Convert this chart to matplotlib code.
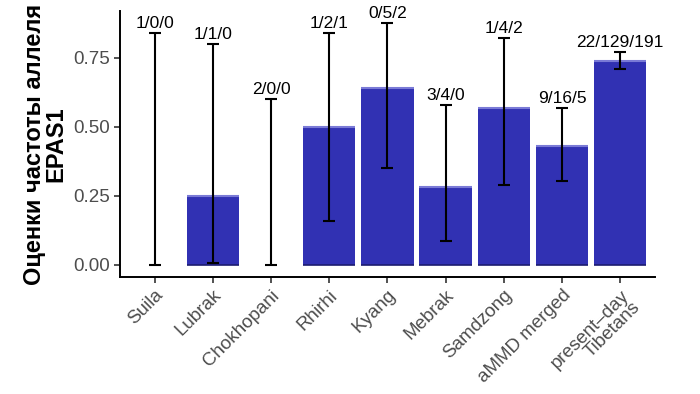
import numpy as np
import matplotlib
matplotlib.use("Agg")
from matplotlib import pyplot as plt

plt.rcParams['font.family'] = ['Liberation Sans', 'DejaVu Sans']

sites = ["Suila", "Lubrak", "Chokhopani", "Rhirhi", "Kyang", "Mebrak",
         "Samdzong", "aMMD merged", "present\u2013day\nTibetans"]
freq = [0.0, 0.25, 0.0, 0.50, 0.64, 0.283, 0.57, 0.43, 0.74]
err_lo = [0.0, 0.007, 0.0, 0.159, 0.351, 0.087, 0.29, 0.304, 0.71]
err_hi = [0.84, 0.80, 0.60, 0.84, 0.877, 0.58, 0.822, 0.569, 0.772]
counts = ["1/0/0", "1/1/0", "2/0/0", "1/2/1", "0/5/2", "3/4/0",
          "1/4/2", "9/16/5", "22/129/191"]

fig = plt.figure(figsize=(7, 3.94), dpi=100)
ax = fig.add_axes([0.171, 0.297, 0.765, 0.675])

x = np.arange(1, len(sites) + 1)
bar_col = "#3131b3"
ax.bar(x, freq, width=0.9, color=bar_col, edgecolor="none", zorder=1)
# lighter rim at bar top, darker at base
for xi, f in zip(x, freq):
    if f > 0:
        ax.hlines(f, xi - 0.45, xi + 0.45, color="#7a7ad6", lw=1.5, zorder=2)
        ax.hlines(0, xi - 0.45, xi + 0.45, color="#1c1c70", lw=1.2, zorder=2)

lo = np.array(freq) - np.array(err_lo)
hi = np.array(err_hi) - np.array(freq)
ax.errorbar(x, freq, yerr=[lo, hi], fmt="none", ecolor="black",
            elinewidth=1.5, capsize=4.5, capthick=1.5, zorder=3)

for xi, top, c in zip(x, err_hi, counts):
    ax.text(xi, top + 0.008, c, ha="center", va="bottom", fontsize=12.5,
            color="black")

ax.set_xlim(0.4, 9.6)
ax.set_ylim(-0.044, 0.92)
ax.set_yticks([0, 0.25, 0.5, 0.75])
ax.set_yticklabels(["0.00", "0.25", "0.50", "0.75"])
ax.set_xticks(x)
ax.set_xticklabels(sites, rotation=45, ha="right", rotation_mode="anchor",
                   multialignment="right", linespacing=0.95)
ax.tick_params(axis="both", colors="#333333", labelsize=13.5, length=4,
               width=1.2, labelcolor="#4d4d4d", pad=3)
for s in ["top", "right"]:
    ax.spines[s].set_visible(False)
for s in ["left", "bottom"]:
    ax.spines[s].set_linewidth(1.4)
ax.set_ylabel("Оценки частоты аллеля\nEPAS1", fontsize=17,
              fontweight="bold", labelpad=4, linespacing=0.95)

fig.savefig("out.png", dpi=100)
